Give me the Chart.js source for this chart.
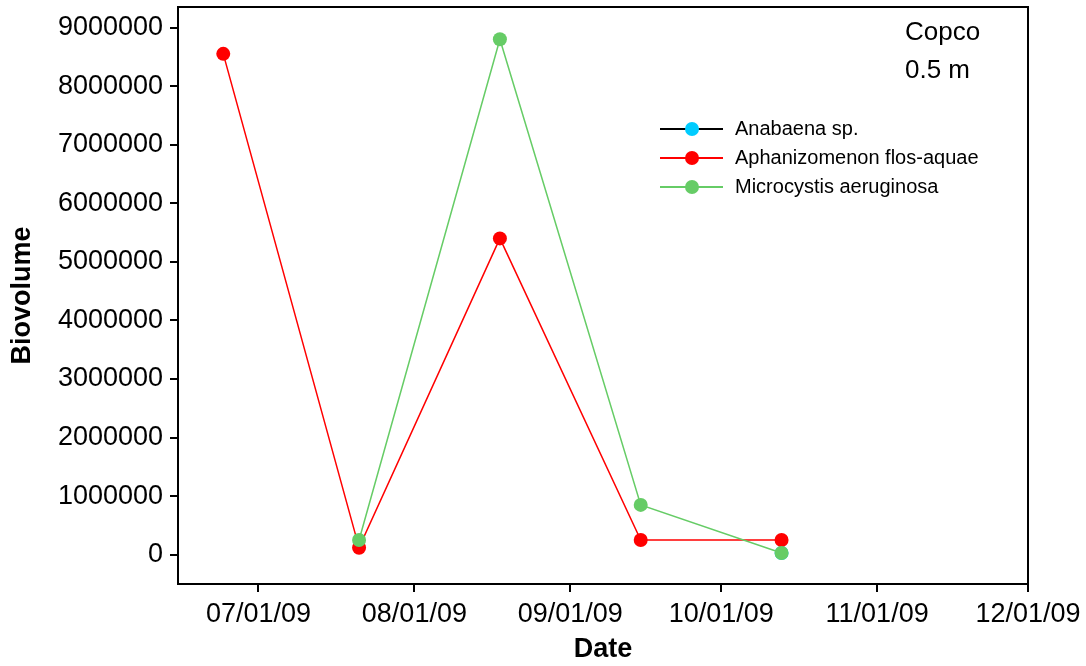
<!DOCTYPE html>
<html>
<head>
<script src="https://cdn.jsdelivr.net/npm/chart.js@4.4.0/dist/chart.umd.min.js"></script>
<style>
  body { margin: 0; background: #fff; }
  canvas { display: block; }
</style>
</head>
<body>
<canvas id="myChart" width="1086" height="666"></canvas>
<script>
  // days counted from 07/01/09
  var sampleDays = [-7, 20, 48, 76, 104];
  var anabaena = [null, null, null, null, 30000];
  var aphanizomenon = [8550000, 120000, 5400000, 250000, 250000];
  var microcystis = [null, 250000, 8800000, 850000, 30000];
  var monthTicks = [0, 31, 62, 92, 123, 153];
  var monthLabels = ['07/01/09', '08/01/09', '09/01/09', '10/01/09', '11/01/09', '12/01/09'];
  var yTicks = [0, 1000000, 2000000, 3000000, 4000000, 5000000, 6000000, 7000000, 8000000, 9000000];

  function toPoints(vals) {
    return sampleDays.map(function (d, i) { return { x: d, y: vals[i] }; });
  }

  var FONT = '"Liberation Sans", Arial, sans-serif';

  var frame = {
    id: 'frame',
    afterDraw: function (chart) {
      var c = chart.ctx, a = chart.chartArea;
      c.save();
      c.strokeStyle = '#000';
      c.lineWidth = 2;
      c.strokeRect(a.left, a.top, a.right - a.left, a.bottom - a.top);
      c.fillStyle = '#000';
      c.font = '26px ' + FONT;
      c.textBaseline = 'middle';
      c.fillText('Copco', 905, 33);
      c.fillText('0.5 m', 905, 71);
      // legend
      c.font = '20px ' + FONT;
      chart.data.datasets.forEach(function (ds, i) {
        var y = 129 + i * 29;
        c.strokeStyle = ds.borderColor;
        c.lineWidth = 2;
        c.beginPath(); c.moveTo(660, y); c.lineTo(723, y); c.stroke();
        c.fillStyle = ds.pointBackgroundColor;
        c.beginPath(); c.arc(692, y, 7, 0, Math.PI * 2); c.fill();
        c.fillStyle = '#000';
        c.fillText(ds.label, 735, y);
      });
      c.restore();
    }
  };

  var ctx = document.getElementById('myChart').getContext('2d');
  var chart = new Chart(ctx, {
    type: 'line',
    data: {
      datasets: [
        {
          label: 'Anabaena sp.',
          order: 3,
          borderColor: '#000000',
          pointBackgroundColor: '#00ccff',
          pointBorderColor: '#00ccff',
          data: toPoints(anabaena)
        },
        {
          label: 'Aphanizomenon flos-aquae',
          order: 2,
          borderColor: '#ff0000',
          pointBackgroundColor: '#ff0000',
          pointBorderColor: '#ff0000',
          data: toPoints(aphanizomenon)
        },
        {
          label: 'Microcystis aeruginosa',
          order: 1,
          borderColor: '#66cc66',
          pointBackgroundColor: '#66cc66',
          pointBorderColor: '#66cc66',
          data: toPoints(microcystis)
        }
      ]
    },
    options: {
      responsive: false,
      animation: false,
      spanGaps: false,
      layout: { padding: { top: 7, right: 58, left: 0, bottom: 0 } },
      elements: {
        line: { borderWidth: 1.5, tension: 0 },
        point: { radius: 7, borderWidth: 0, hoverRadius: 7 }
      },
      plugins: { legend: { display: false }, tooltip: { enabled: false } },
      scales: {
        x: {
          type: 'linear',
          min: -16, max: 153,
          afterBuildTicks: function (s) { s.ticks = monthTicks.map(function (v) { return { value: v }; }); },
          afterFit: function (s) { s.height = 82; s.paddingLeft = 0; s.paddingRight = 0; },
          ticks: {
            autoSkip: false, maxRotation: 0, padding: 6, color: '#000',
            font: { family: FONT, size: 27 },
            callback: function (v) { return monthLabels[monthTicks.indexOf(v)]; }
          },
          grid: { drawOnChartArea: false, drawTicks: true, tickLength: 8, color: '#000', lineWidth: 2 },
          border: { display: false },
          title: {
            display: true, text: 'Date', color: '#000', padding: { top: 0, bottom: 0 },
            font: { family: FONT, size: 27, weight: 'bold' }
          }
        },
        y: {
          min: -500000, max: 9350000,
          afterBuildTicks: function (s) { s.ticks = yTicks.map(function (v) { return { value: v }; }); },
          afterFit: function (s) { s.width = 178; s.paddingTop = 0; s.paddingBottom = 0; },
          ticks: {
            padding: 7, color: '#000',
            font: { family: FONT, size: 27 },
            callback: function (v) { return String(v); }
          },
          grid: { drawOnChartArea: false, drawTicks: true, tickLength: 8, color: '#000', lineWidth: 2 },
          border: { display: false },
          title: {
            display: true, text: 'Biovolume', color: '#000', padding: { top: 6, bottom: 0 },
            font: { family: FONT, size: 27, weight: 'bold' }
          }
        }
      }
    },
    plugins: [frame]
  });
</script>
</body>
</html>
